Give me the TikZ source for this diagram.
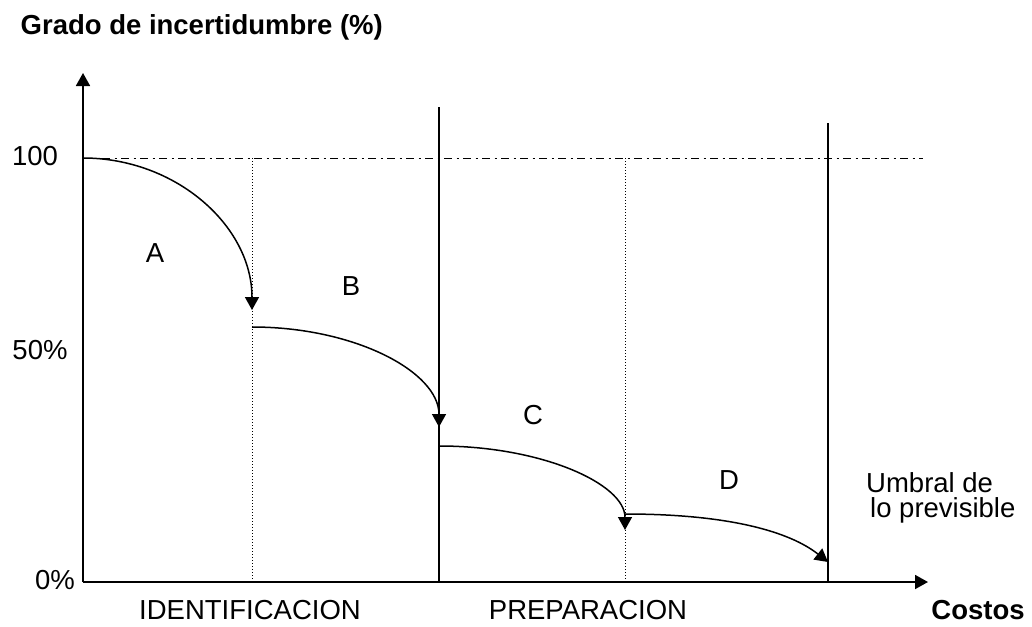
\documentclass[tikz,border=0pt]{standalone}
\usepackage{fontspec}
\setmainfont{Liberation Sans}
\usetikzlibrary{arrows.meta}
\begin{document}
\begin{tikzpicture}[x=1pt,y=-1pt,
  lbl/.style={inner sep=0pt,font=\fontsize{27.5}{33}\selectfont},
  blbl/.style={lbl,font=\fontsize{27.5}{33}\selectfont\bfseries},
  axis/.style={line width=1.8pt,-{Triangle[length=13pt,width=14pt]}},
  curve/.style={line width=1.5pt,-{Triangle[length=13pt,width=14pt]}},
  flat/.style={line width=1.5pt},
  phase/.style={line width=1.5pt},
  sub/.style={line width=1pt,dash pattern=on 1pt off 2pt},
  ref/.style={line width=1pt,dash pattern=on 8pt off 4.5pt on 2pt off 4.5pt}]
\useasboundingbox (0,0) rectangle (1032,626);
% coordinates
\coordinate (O) at (83,582);
\coordinate (ytop) at (83,73);
\coordinate (xend) at (928,582);
\coordinate (h0) at (83,158);
\coordinate (href) at (923,158);
\coordinate (d1t) at (252,158);
\coordinate (d1b) at (252,582);
\coordinate (s1t) at (439,107);
\coordinate (s1b) at (439,582);
\coordinate (d2t) at (625,158);
\coordinate (d2b) at (625,582);
\coordinate (s2t) at (828,123);
\coordinate (s2b) at (828,582);
\coordinate (aEnd) at (252,310);
\coordinate (bStart) at (252,327);
\coordinate (bEnd) at (439,427);
\coordinate (cStart) at (439,446);
\coordinate (cEnd) at (625,530);
\coordinate (dStart) at (625,514);
\coordinate (dEnd) at (828,562);
% reference line and guides
\draw[ref] (h0) -- (href);
\draw[sub] (d1t) -- (d1b);
\draw[sub] (d2t) -- (d2b);
\draw[phase] (s1t) -- (s1b);
\draw[phase] (s2t) -- (s2b);
% axes
\draw[axis] (O) -- (ytop);
\draw[axis] (O) -- (xend);
% curves
\draw[curve] (h0) .. controls (176,158) and (252,226) .. (aEnd);
\draw[curve] (bStart) .. controls (355,327) and (439,372) .. (bEnd);
\draw[curve] (cStart) .. controls (542,446) and (625,484) .. (cEnd);
\draw[curve] (dStart) .. controls (730,514) and (790,532) .. (dEnd);
% labels
\node[blbl,anchor=base east] (title) at (383,35) {Grado de incertidumbre (\%)};
\node[lbl] (l100) at (35,156) {100};
\node[lbl] (l50) at (40,350) {50\%};
\node[lbl] (l0) at (55,580) {0\%};
\node[lbl] (A) at (155,253) {A};
\node[lbl] (B) at (351,286) {B};
\node[lbl] (C) at (533,415) {C};
\node[lbl] (D) at (729,480) {D};
\node[lbl,anchor=base west] (u1) at (866,492) {Umbral de};
\node[lbl,anchor=base west] (u2) at (870,517) {lo previsible};
\node[lbl] (ident) at (250,610) {IDENTIFICACION};
\node[lbl] (prep) at (588,610) {PREPARACION};
\node[blbl] (costos) at (978,610) {Costos};
\end{tikzpicture}
\end{document}
